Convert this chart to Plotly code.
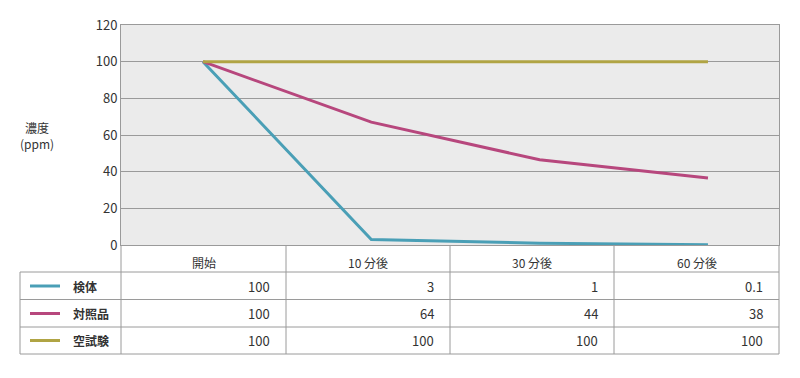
import plotly.graph_objects as go

# ---- data ----
categories = ["開始", "10 分後", "30 分後", "60 分後"]
series_names = ["検体", "対照品", "空試験"]
kentai = [100, 3, 1, 0.1]
taishohin = [100, 67, 46.5, 36.5]
kushiken = [100, 100, 100, 100]
table_kentai = ["100", "3", "1", "0.1"]
table_taishohin = ["100", "64", "44", "38"]
table_kushiken = ["100", "100", "100", "100"]
y_ticks = [0, 20, 40, 60, 80, 100, 120]

colors = ["#4a9fb6", "#b7477d", "#b0a444"]
series_values = [kentai, taishohin, kushiken]
table_rows = [table_kentai, table_taishohin, table_kushiken]

W, H = 800, 378
def px(x):
    return x / W
def py(y):
    return 1 - y / H

FONT = "Noto Sans CJK JP"
TXT = "#333333"
GRID = "#9a9a9a"

fig = go.Figure()
for name, vals, c in zip(series_names, series_values, colors):
    fig.add_trace(go.Scatter(x=categories, y=vals, mode="lines", name=name,
                             line=dict(color=c, width=3), showlegend=False,
                             hoverinfo="skip"))

# plot area in pixels
L, R, T, B = 121, 779, 25, 245
fig.update_layout(
    width=W, height=H,
    margin=dict(l=0, r=0, t=0, b=0, pad=0, autoexpand=False),
    paper_bgcolor="white",
    plot_bgcolor="#ebebeb",
    font=dict(family=FONT, color=TXT, size=13),
    xaxis=dict(domain=[px(L), px(R)], type="category", range=[-0.487, 3.422],
               showticklabels=False, showgrid=False, zeroline=False,
               showline=True, mirror=True, linecolor=GRID, linewidth=1, ticks=""),
    yaxis=dict(domain=[py(B), py(T)], range=[0, 120], tickvals=y_ticks,
               showgrid=True, gridcolor=GRID, gridwidth=1, zeroline=False,
               showline=True, mirror=True, linecolor=GRID, linewidth=1,
               ticks="", tickfont=dict(size=13, color=TXT)),
)

shapes = []
def hline(y, x0, x1, w=1):
    shapes.append(dict(type="line", xref="paper", yref="paper",
                       x0=px(x0), x1=px(x1), y0=py(y), y1=py(y),
                       line=dict(color=GRID, width=w)))
def vline(x, y0, y1, w=1):
    shapes.append(dict(type="line", xref="paper", yref="paper",
                       x0=px(x), x1=px(x), y0=py(y0), y1=py(y1),
                       line=dict(color=GRID, width=w)))

col_edges = [121, 286, 450, 614, 779]
row_edges = [272, 299.5, 327, 354]
for y in row_edges:
    hline(y, 20, 779)
vline(20, 272, 354)
for x in col_edges:
    vline(x, 245, 354)

row_centers = [286, 313.5, 340.5]
for c, yc in zip(colors, row_centers):
    shapes.append(dict(type="line", xref="paper", yref="paper",
                       x0=px(30), x1=px(60), y0=py(yc), y1=py(yc),
                       line=dict(color=c, width=3)))
fig.update_layout(shapes=shapes)

ann = []
# header
for i, cat in enumerate(categories):
    xc = (col_edges[i] + col_edges[i + 1]) / 2
    ann.append(dict(x=px(xc), y=py(262), xref="paper", yref="paper", text=cat,
                    showarrow=False, xanchor="center", yanchor="middle",
                    font=dict(size=12, color=TXT)))
# rows
for name, vals, yc in zip(series_names, table_rows, row_centers):
    ann.append(dict(x=px(71), y=py(yc), xref="paper", yref="paper", text="<b>" + name + "</b>",
                    showarrow=False, xanchor="left", yanchor="middle",
                    font=dict(size=12, color=TXT)))
    for i, v in enumerate(vals):
        ann.append(dict(x=px(col_edges[i + 1] - 14), y=py(yc), xref="paper", yref="paper",
                        text=v, showarrow=False, xanchor="right", yanchor="middle",
                        font=dict(size=13, color=TXT)))
# y title
ann.append(dict(x=px(37), y=py(135.5), xref="paper", yref="paper", text="濃度<br>(ppm)",
                showarrow=False, xanchor="center", yanchor="middle", align="center",
                font=dict(size=12, color=TXT)))
fig.update_layout(annotations=ann)

fig.write_html("out.html", config={"displayModeBar": False},
               post_script="document.body.style.margin='0';document.body.style.overflow='hidden';")
